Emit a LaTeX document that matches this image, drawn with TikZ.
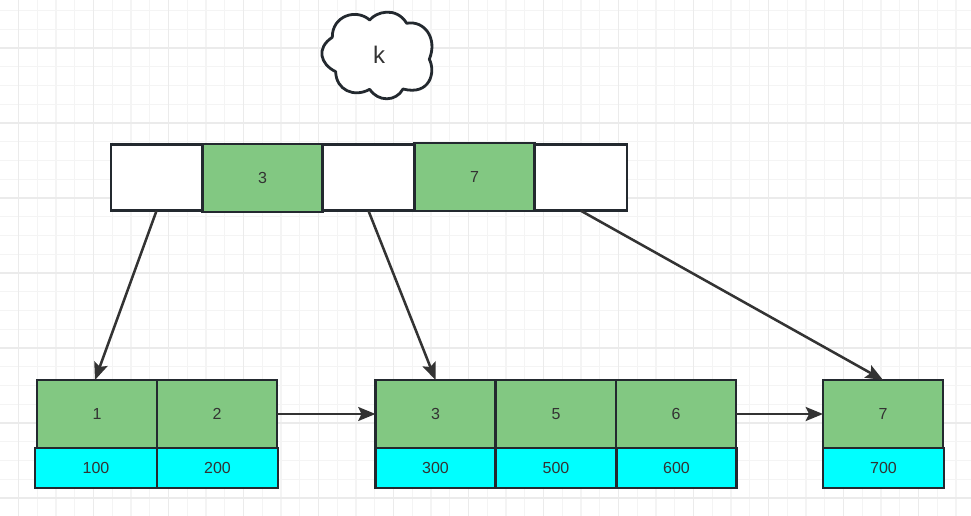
\documentclass[tikz,border=0pt]{standalone}
\usepackage{fontspec}
\setmainfont{Liberation Sans}
\usetikzlibrary{arrows.meta}
\definecolor{edge}{HTML}{23292F}
\definecolor{ink}{HTML}{333333}
\definecolor{leafgreen}{HTML}{82C882}
\definecolor{datacyan}{HTML}{00FFFF}
\definecolor{gridminor}{HTML}{F4F4F4}
\definecolor{gridmajor}{HTML}{EBEBEB}

\begin{document}
\begin{tikzpicture}[
x=0.75pt, y=-0.75pt,
cell/.style={
		draw=edge,
		line width=2.1pt,
		outer sep=0pt,
		inner sep=0pt,
		text=ink,
		font=\fontsize{12}{14}\selectfont,
		text centered,
		},
keycell/.style={cell, fill=leafgreen, minimum width=90pt, minimum height=51pt},
datacell/.style={cell, fill=datacyan, minimum height=30pt},
gapcell/.style={cell, fill=white, minimum height=50pt},
link/.style={draw=ink, line width=1.9pt, -{Stealth[length=13pt,width=10.5pt,inset=2.5pt]}},
]

\def \width {971}
\def \height {516}

\useasboundingbox (0,0) rectangle (\width,\height);

% paper grid
\foreach \k in {0,...,51}
{
  \draw[gridminor, line width=0.9pt] ({18.75*\k - 0.25},0) -- ({18.75*\k - 0.25},\height);
}
\foreach \k in {0,...,27}
{
  \draw[gridminor, line width=0.9pt] (0,{10.5 + 18.75*\k}) -- (\width,{10.5 + 18.75*\k});
}
\foreach \k in {0,...,12}
{
  \draw[gridmajor, line width=0.9pt] ({18.5 + 75*\k},0) -- ({18.5 + 75*\k},\height);
}
\foreach \k in {0,...,6}
{
  \draw[gridmajor, line width=0.9pt] (0,{48 + 75*\k}) -- (\width,{48 + 75*\k});
}

% cloud
\draw[edge, line width=2.1pt, fill=white, line join=round]
  (369.7,20) .. controls (376,12) and (396,6) .. (406.7,23.3)
  .. controls (424,20) and (438,38) .. (429.3,59.3)
  .. controls (436,72) and (430,96) .. (403,89)
  .. controls (396,102) and (378,102) .. (369.7,89.3)
  .. controls (354,98) and (336,90) .. (335.7,71.7)
  .. controls (320,64) and (316,48) .. (332.3,37.3)
  .. controls (332,16) and (356,8) .. (369.7,20) -- cycle;
\node[text=ink, font=\fontsize{18}{20}\selectfont] (cloudk) at (379,55) {k};

% root row
\node[gapcell, minimum width=68.25pt] (gapa) at (156.5,177.5) {};
\node[gapcell, minimum width=68.25pt] (gapb) at (368.5,177.5) {};
\node[gapcell, minimum width=69pt] (gapc) at (581,177.5) {};
\node[keycell] (keythree) at (262.5,178) {3};
\node[keycell] (keyseven) at (474.5,177) {7};

% leaf rows
\foreach \name/\x/\key/\val/\dx/\dw in {one/97/1/100/96/91.5pt,two/217/2/200/217.5/90.75pt,three/435.5/3/300/435.5/90pt,five/556/5/500/556/90pt,six/676/6/600/676.5/90pt,seven/883/7/700/883.5/90.75pt}
{
  \node[keycell] (leaf\name) at (\x,414) {\key};
  \node[datacell, minimum width=\dw] (data\name) at (\dx,468) {\val};
}

% links
\draw[link] (gapa.south) -- ([xshift=-1.5pt]leafone.north);
\draw[link] (gapb.south) -- (leafthree.north);
\draw[link] (gapc.south) -- (leafseven.north);
\draw[link] (leaftwo.east) -- (leafthree.west);
\draw[link] (leafsix.east) -- (leafseven.west);

\end{tikzpicture}
\end{document}
